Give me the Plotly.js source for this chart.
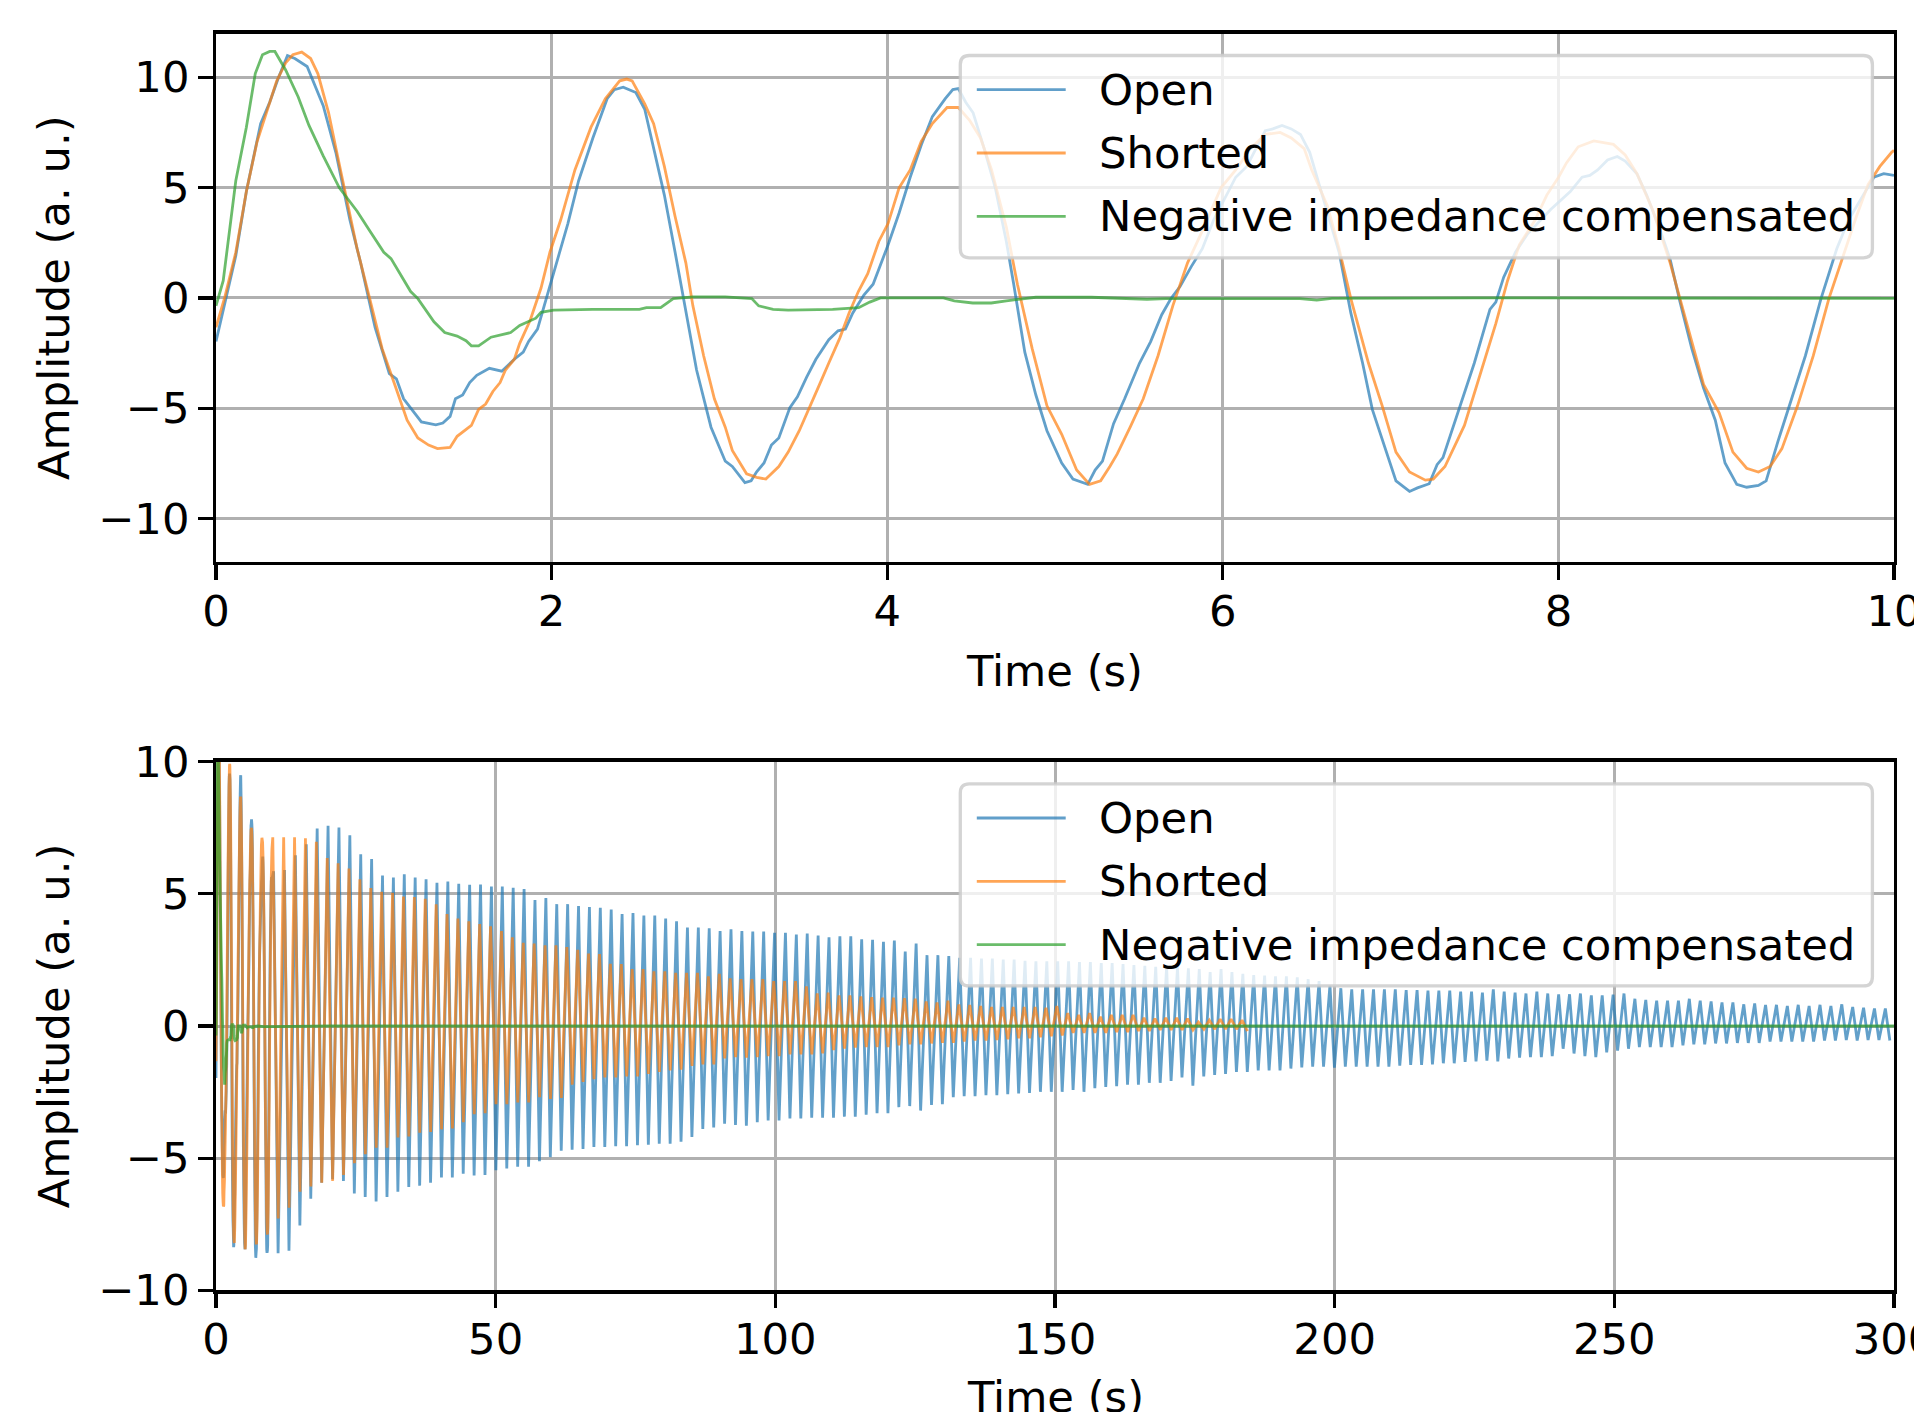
<!DOCTYPE html>
<html><head><meta charset="utf-8">
<script src="https://cdn.plot.ly/plotly-3.0.1.min.js"></script>
<style>html,body{margin:0;padding:0;background:#fff;}#chart{width:1914px;height:1412px;}</style>
</head><body><div id="chart"></div>
<script>
// ---------- data ----------
const seriesNames = ['Open', 'Shorted', 'Negative impedance compensated'];
const seriesColors = ['#1f77b4', '#ff7f0e', '#2ca02c'];
const topXTicks = [0, 2, 4, 6, 8, 10];
const bottomXTicks = [0, 50, 100, 150, 200, 250, 300];
const yTicks = [-10, -5, 0, 5, 10];

// first 10 s, [time, amplitude]
const openTop = [[0,-1.97],[0.053,-0.19],[0.118,1.91],[0.181,4.82],[0.266,7.9],[0.32,8.87],[0.373,10.0],[0.426,10.98],[0.47,10.85],[0.543,10.49],[0.639,8.71],[0.714,6.6],[0.798,3.53],[0.862,1.59],[0.948,-1.33],[1.033,-3.43],[1.075,-3.67],[1.118,-4.57],[1.224,-5.62],[1.31,-5.75],[1.352,-5.67],[1.395,-5.37],[1.427,-4.57],[1.47,-4.4],[1.512,-3.84],[1.554,-3.51],[1.629,-3.19],[1.703,-3.32],[1.778,-2.78],[1.831,-2.46],[1.863,-1.97],[1.916,-1.41],[1.98,0.29],[2.033,1.59],[2.097,3.37],[2.161,5.31],[2.246,7.25],[2.331,9.03],[2.374,9.44],[2.427,9.55],[2.502,9.31],[2.555,8.55],[2.619,6.44],[2.672,4.66],[2.736,2.07],[2.8,-0.52],[2.864,-3.27],[2.95,-5.86],[3.035,-7.4],[3.077,-7.64],[3.152,-8.37],[3.189,-8.29],[3.222,-7.88],[3.266,-7.48],[3.31,-6.67],[3.354,-6.35],[3.42,-4.97],[3.465,-4.48],[3.52,-3.59],[3.575,-2.78],[3.652,-1.89],[3.707,-1.49],[3.751,-1.41],[3.795,-0.68],[3.861,0.13],[3.916,0.62],[4.005,2.4],[4.071,3.85],[4.137,5.47],[4.203,6.93],[4.269,8.22],[4.346,9.03],[4.391,9.44],[4.424,9.49],[4.468,8.87],[4.512,8.39],[4.578,6.77],[4.644,4.99],[4.71,2.56],[4.754,0.62],[4.82,-2.46],[4.886,-4.4],[4.952,-6.02],[5.04,-7.48],[5.107,-8.21],[5.195,-8.45],[5.239,-7.8],[5.283,-7.4],[5.349,-5.7],[5.415,-4.57],[5.504,-2.95],[5.57,-1.98],[5.636,-0.76],[5.691,-0.03],[5.746,0.53],[5.812,1.42],[5.878,2.23],[5.945,3.53],[6.011,4.5],[6.077,5.47],[6.143,5.96],[6.209,6.93],[6.253,7.58],[6.298,7.66],[6.353,7.82],[6.408,7.66],[6.463,7.41],[6.518,6.6],[6.6,4.5],[6.693,2.07],[6.763,-0.68],[6.833,-2.95],[6.891,-5.05],[6.962,-6.67],[7.032,-8.29],[7.113,-8.77],[7.16,-8.61],[7.23,-8.42],[7.277,-7.56],[7.312,-7.24],[7.417,-4.89],[7.499,-2.95],[7.592,-0.52],[7.627,-0.19],[7.674,0.94],[7.744,2.07],[7.814,2.88],[7.954,4.01],[8.071,4.82],[8.141,5.47],[8.187,5.55],[8.234,5.8],[8.293,6.25],[8.351,6.41],[8.398,6.2],[8.468,5.63],[8.526,4.66],[8.608,3.04],[8.666,1.75],[8.725,-0.19],[8.795,-2.3],[8.865,-4.08],[8.935,-5.54],[8.993,-7.48],[9.063,-8.45],[9.122,-8.58],[9.192,-8.5],[9.238,-8.29],[9.308,-6.51],[9.378,-4.89],[9.472,-2.62],[9.565,-0.03],[9.659,2.23],[9.729,3.53],[9.799,4.42],[9.88,5.47],[9.939,5.63],[10.0,5.55]];

const shortedTop = [[0,-1.33],[0.053,0.05],[0.118,2.07],[0.181,4.82],[0.245,7.09],[0.309,8.55],[0.362,9.84],[0.415,10.65],[0.458,11.02],[0.511,11.14],[0.564,10.85],[0.607,10.17],[0.671,8.39],[0.724,6.44],[0.777,4.5],[0.841,2.23],[0.916,-0.03],[0.99,-2.3],[1.065,-3.92],[1.139,-5.54],[1.203,-6.35],[1.267,-6.67],[1.32,-6.83],[1.395,-6.78],[1.437,-6.27],[1.522,-5.78],[1.565,-5.05],[1.607,-4.81],[1.65,-4.24],[1.693,-3.84],[1.725,-3.27],[1.778,-2.78],[1.81,-2.06],[1.873,-1.0],[1.937,0.45],[1.99,2.07],[2.054,3.53],[2.139,5.8],[2.235,7.74],[2.32,9.03],[2.406,9.84],[2.448,9.92],[2.48,9.84],[2.555,8.79],[2.608,7.9],[2.672,5.96],[2.736,3.69],[2.8,1.59],[2.842,-0.36],[2.906,-2.62],[2.97,-4.57],[3.035,-5.86],[3.077,-6.91],[3.162,-7.97],[3.222,-8.13],[3.277,-8.21],[3.354,-7.64],[3.41,-6.99],[3.476,-6.02],[3.553,-4.73],[3.597,-3.92],[3.652,-2.95],[3.718,-1.81],[3.773,-0.68],[3.828,0.29],[3.884,1.1],[3.95,2.56],[4.005,3.37],[4.071,4.99],[4.137,5.8],[4.203,7.09],[4.269,7.9],[4.357,8.63],[4.424,8.63],[4.49,8.06],[4.556,7.25],[4.622,5.8],[4.71,3.21],[4.776,0.62],[4.864,-2.3],[4.952,-4.89],[5.04,-6.18],[5.129,-7.8],[5.206,-8.45],[5.272,-8.29],[5.327,-7.64],[5.371,-7.07],[5.448,-5.86],[5.526,-4.57],[5.614,-2.62],[5.702,-0.36],[5.79,1.59],[5.878,3.04],[5.989,4.99],[6.077,5.8],[6.165,6.77],[6.253,7.41],[6.342,7.5],[6.408,7.25],[6.485,6.77],[6.53,5.8],[6.623,4.18],[6.693,2.23],[6.763,-0.03],[6.868,-2.95],[6.95,-4.89],[7.032,-6.99],[7.113,-7.89],[7.207,-8.26],[7.254,-8.21],[7.324,-7.64],[7.44,-5.78],[7.534,-3.43],[7.627,-1.17],[7.697,0.78],[7.767,2.4],[7.861,3.53],[7.931,4.66],[8.001,5.47],[8.048,6.12],[8.118,6.85],[8.211,7.12],[8.328,6.96],[8.398,6.48],[8.468,5.63],[8.561,4.01],[8.666,1.59],[8.76,-1.0],[8.865,-3.92],[8.958,-5.21],[9.04,-6.99],[9.122,-7.72],[9.192,-7.89],[9.262,-7.64],[9.332,-6.83],[9.425,-4.89],[9.519,-2.62],[9.612,-0.03],[9.682,1.59],[9.776,3.69],[9.846,5.15],[9.916,5.96],[9.986,6.6],[10.0,6.69]];

const negTop = [[0,-0.36],[0.043,0.78],[0.118,5.31],[0.181,7.74],[0.234,10.17],[0.277,11.02],[0.32,11.17],[0.351,11.17],[0.415,10.33],[0.49,9.11],[0.554,7.82],[0.639,6.44],[0.735,4.99],[0.767,4.66],[0.841,3.93],[0.916,3.04],[0.969,2.4],[1.0,2.07],[1.043,1.78],[1.097,1.1],[1.16,0.29],[1.203,-0.03],[1.246,-0.52],[1.299,-1.08],[1.363,-1.57],[1.437,-1.73],[1.49,-1.94],[1.522,-2.17],[1.565,-2.17],[1.639,-1.78],[1.756,-1.57],[1.81,-1.25],[1.906,-0.92],[1.937,-0.65],[2.012,-0.55],[2.246,-0.52],[2.523,-0.52],[2.565,-0.44],[2.65,-0.44],[2.725,-0.03],[2.842,0.05],[3.035,0.05],[3.193,-0.03],[3.234,-0.36],[3.32,-0.52],[3.41,-0.55],[3.675,-0.52],[3.83,-0.44],[3.896,-0.19],[3.96,0],[4.335,0],[4.4,-0.13],[4.51,-0.23],[4.62,-0.23],[4.71,-0.13],[4.886,0.03],[5.217,0.03],[5.548,-0.06],[5.66,-0.03],[6.46,-0.03],[6.56,-0.1],[6.65,-0.02],[7.5,0.0],[8.5,-0.02],[10,-0.02]];

// after 10 s: successive peak / trough amplitudes, one per oscillation
const period = 1.947;
const openPeakStart = 10.3, openTroughStart = 11.1;
const shortedPeakStart = 10.15, shortedTroughStart = 11.12;

const openPeaks = [5.85,5.9,6.46,6.88,7.47,7.58,7.51,7.22,6.5,6.32,5.69,5.62,5.74,5.62,5.55,5.42,5.47,5.38,5.34,5.35,5.28,5.28,5.23,5.18,4.77,4.84,4.61,4.61,4.54,4.5,4.47,4.41,4.24,4.27,4.18,4.18,4.07,3.96,3.73,3.73,3.7,3.59,
3.66,3.59,3.57,3.57,3.53,3.53,3.46,3.5,3.42,3.36,3.39,3.39,3.28,3.26,3.19,3.23,2.82,3.12,2.68,2.68,2.65,2.58,2.58,2.55,2.55,2.51,2.51,2.47,2.45,2.45,2.45,2.45,2.42,2.42,2.38,2.38,2.34,2.31,2.28,2.24,2.24,2.22,2.18,2.15,2.04,2.15,2.04,1.97,1.93,1.91,1.88,1.88,1.84,1.77,1.7,
1.55,1.43,1.39,1.39,1.39,1.39,1.39,1.36,1.36,1.34,1.34,1.34,1.3,1.3,1.26,1.39,1.3,1.26,1.23,1.3,1.23,1.2,1.2,1.23,1.16,1.16,1.19,1.23,1.03,0.99,0.96,0.96,0.96,1.03,0.96,0.93,0.89,0.89,0.82,0.85,0.8,0.8,0.76,0.8,0.76,0.8,0.76,0.82,0.72,0.69,0.66,0.66];

const openTroughs = [-8.6,-8.5,-7.55,-6.54,-5.93,-5.8,-5.86,-6.34,-6.47,-6.64,-6.47,-6.27,-6.09,-6.04,-5.93,-5.73,-5.73,-5.59,-5.66,-5.64,-5.46,-5.39,-5.32,-5.32,-5.12,-4.96,-4.72,-4.68,-4.65,-4.58,-4.58,-4.55,-4.55,-4.51,-4.49,-4.45,-4.45,-4.38,-4.2,-3.9,-3.84,
-3.7,-3.74,-3.77,-3.64,-3.57,-3.57,-3.5,-3.5,-3.47,-3.47,-3.47,-3.43,-3.43,-3.36,-3.3,-3.3,-3.07,-3.03,-3.2,-2.99,-2.96,-2.69,-2.66,-2.66,-2.62,-2.62,-2.58,-2.55,-2.53,-2.49,-2.49,-2.49,-2.42,-2.49,-2.35,-2.31,-2.28,-2.22,-2.22,-2.15,-2.15,-2.08,-1.95,-2.26,-1.91,-1.85,-1.81,-1.74,-1.74,-1.68,-1.68,-1.68,-1.61,-1.57,-1.54,
-1.54,-1.58,-1.54,-1.54,-1.54,-1.54,-1.54,-1.5,-1.47,-1.47,-1.45,-1.41,-1.41,-1.36,-1.34,-1.31,-1.34,-1.23,-1.2,-1.18,-1.18,-1.14,-0.86,-1.04,-1.14,-1.18,-1.0,-0.93,-0.86,-0.8,-0.8,-0.8,-0.8,-0.73,-0.69,-0.69,-0.66,-0.66,-0.64,-0.64,-0.64,-0.59,-0.59,-0.59,-0.59,-0.59,-0.55,-0.55,-0.53,-0.55,-0.53,-0.53,-0.55];

const shortedPeaks = [7.14,7.14,7.14,7.1,6.97,6.36,6.16,5.96,5.55,5.22,5.08,5.04,4.9,4.88,4.81,4.61,4.24,4.07,3.96,3.86,3.77,3.59,3.36,3.15,3.12,3.05,3.05,2.99,2.88,2.74,2.72,2.35,2.34,2.15,2.15,2.07,2.07,2.01,2.01,2.01,1.88,1.97,
1.8,1.77,1.77,1.77,1.7,1.7,1.7,1.5,1.23,1.26,1.16,1.16,1.12,1.09,1.07,1.07,1.05,1.03,0.93,0.89,0.96,0.82,0.8,0.76,0.72,0.72,0.72,0.72,0.72,0.69,0.76,0.49,0.42,0.49,0.35,0.42,0.42,0.42,0.31,0.28,0.31,0.31,0.28,0.15,0.22,0.26,0.26,0.22];

const shortedTroughs = [-7.28,-6.88,-6.27,-6.07,-5.93,-5.86,-5.64,-5.19,-4.85,-4.61,-4.61,-4.22,-4.18,-4.04,-4.01,-3.91,-3.88,-3.64,-3.34,-3.3,-2.96,-2.96,-2.89,-2.89,-2.69,-2.76,-2.72,-2.22,-2.12,-2.01,-1.95,-1.95,-1.91,-1.91,-1.81,-1.74,-1.68,-1.65,-1.51,-1.45,-1.45,
-1.23,-1.18,-1.2,-1.18,-1.14,-1.14,-1.07,-1.07,-1.07,-1.04,-0.91,-0.86,-0.82,-0.8,-0.8,-0.8,-0.73,-0.69,-0.69,-0.66,-0.64,-0.64,-0.59,-0.55,-0.55,-0.53,-0.5,-0.46,-0.46,-0.43,-0.39,-0.36,-0.26,-0.26,-0.26,-0.26,-0.23,-0.23,-0.19,-0.19,-0.15,-0.15,-0.15,-0.15,-0.12,-0.12,-0.12,-0.12,-0.19];

const negTail = [[20,0],[50,0],[100,0],[150,0],[200,0],[250,0],[300,0]];

// ---------- build ----------
const W = 1914, H = 1412;
const FONT = 'DejaVu Sans';
const FS = 43.3;
const LW = 2.8;

function pairs(arr){ return {x: arr.map(d=>d[0]), y: arr.map(d=>d[1])}; }
function ringdown(head, peaks, troughs, p0, t0){
  const x = head.map(d=>d[0]), y = head.map(d=>d[1]);
  const n = Math.max(peaks.length, troughs.length);
  for (let i=0;i<n;i++){
    if (i<peaks.length){ x.push(p0+i*period); y.push(peaks[i]); }
    if (i<troughs.length){ x.push(t0+i*period); y.push(troughs[i]); }
  }
  return {x, y};
}

const topSeries = [pairs(openTop), pairs(shortedTop), pairs(negTop)];
const bottomSeries = [
  ringdown(openTop, openPeaks, openTroughs, openPeakStart, openTroughStart),
  ringdown(shortedTop, shortedPeaks, shortedTroughs, shortedPeakStart, shortedTroughStart),
  pairs(negTop.concat(negTail))
];

const traces = [];
topSeries.forEach((s,i)=>traces.push({type:'scatter', mode:'lines', x:s.x, y:s.y, xaxis:'x', yaxis:'y', name:seriesNames[i], opacity:0.7, line:{color:seriesColors[i], width:LW}, hoverinfo:'skip'}));
bottomSeries.forEach((s,i)=>traces.push({type:'scatter', mode:'lines', x:s.x, y:s.y, xaxis:'x2', yaxis:'y2', name:seriesNames[i], opacity:0.7, line:{color:seriesColors[i], width:LW, simplify:false}, hoverinfo:'skip'}));

function axisBase(){
  return {ticks:'outside', ticklen:14.6, tickwidth:3.3, tickcolor:'black',
    showline:true, linecolor:'black', linewidth:3.3, mirror:true,
    showgrid:true, gridcolor:'#b0b0b0', gridwidth:3, zeroline:false,
    ticklabeloverflow:'allow',
    tickfont:{family:FONT, size:FS, color:'black'}, fixedrange:true};
}
const titleFont = {family:FONT, size:FS, color:'black'};
const xDomain = [216/W, 1894/W];
const layout = {
  width:W, height:H, margin:{l:0,r:0,t:0,b:0}, paper_bgcolor:'white', plot_bgcolor:'white',
  showlegend:false, font:{family:FONT, size:FS, color:'black'},
  xaxis: Object.assign(axisBase(), {domain:xDomain, anchor:'y', range:[0,10], tickvals:topXTicks, ticklabelstandoff:-6,
    title:{text:'Time (s)', font:titleFont, standoff:22}}),
  yaxis: Object.assign(axisBase(), {domain:[1-561.8/H, 1-33.6/H], anchor:'x', range:[-11.96,11.98], tickvals:yTicks,
    title:{text:'Amplitude (a. u.)', font:titleFont, standoff:16}}),
  xaxis2: Object.assign(axisBase(), {domain:xDomain, anchor:'y2', range:[0,300], tickvals:bottomXTicks, ticklabelstandoff:-6}),
  yaxis2: Object.assign(axisBase(), {domain:[1-1290.3/H, 1-761.7/H], anchor:'x2', range:[-10,10], tickvals:yTicks,
    title:{text:'Amplitude (a. u.)', font:titleFont, standoff:16}}),
  shapes:[], annotations:[]
};

function X(v){ return v/W; } function Y(v){ return 1-v/H; }

// bottom x-axis title (runs past the lower edge of the figure, as in the original)
layout.annotations.push({xref:'paper', yref:'paper', x:(xDomain[0]+xDomain[1])/2, y:Y(1396.5), xanchor:'center', yanchor:'middle',
  text:'Time (s)', showarrow:false, font:titleFont, borderpad:0});

// legend boxes (matplotlib style: rounded frame, long handles)
function roundRect(x0,y0,x1,y1,r){
  const f=(a,b)=>X(a).toFixed(6)+','+Y(b).toFixed(6);
  return 'M'+f(x0+r,y0)+' L'+f(x1-r,y0)+' Q'+f(x1,y0)+' '+f(x1,y0+r)+
         ' L'+f(x1,y1-r)+' Q'+f(x1,y1)+' '+f(x1-r,y1)+
         ' L'+f(x0+r,y1)+' Q'+f(x0,y1)+' '+f(x0,y1-r)+
         ' L'+f(x0,y0+r)+' Q'+f(x0,y0)+' '+f(x0+r,y0)+' Z';
}
const legendBoxes = [[960.3,55.5,1872.4,257.8],[960.3,783.9,1872.4,985.9]];
const rowOffsets = [34.1, 97.5, 160.8];
legendBoxes.forEach(b=>{
  layout.shapes.push({type:'path', xref:'paper', yref:'paper', layer:'above',
    path:roundRect(b[0],b[1],b[2],b[3],9), fillcolor:'rgba(255,255,255,0.8)',
    line:{color:'rgba(204,204,204,0.85)', width:3.3}});
  rowOffsets.forEach((o,i)=>{
    const yy = b[1]+o;
    layout.shapes.push({type:'line', xref:'paper', yref:'paper', layer:'above',
      x0:X(976.8), x1:X(1065.7), y0:Y(yy), y1:Y(yy), opacity:0.7,
      line:{color:seriesColors[i], width:LW}});
    layout.annotations.push({xref:'paper', yref:'paper', x:X(1097.5), y:Y(yy), xanchor:'left', yanchor:'middle',
      text:seriesNames[i], showarrow:false, font:titleFont, borderpad:0});
  });
});

Plotly.newPlot('chart', traces, layout, {staticPlot:true, displayModeBar:false});
</script>
</body></html>
